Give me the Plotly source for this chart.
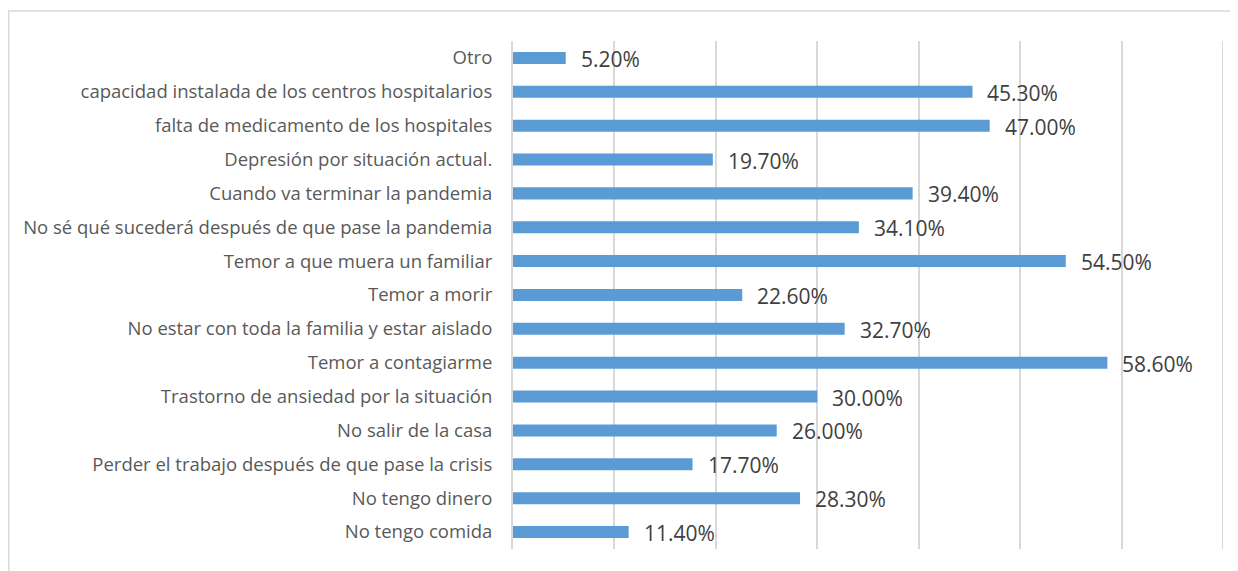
import plotly.graph_objects as go

categories = [
    "Otro",
    "capacidad instalada de los centros hospitalarios",
    "falta de medicamento de los hospitales",
    "Depresión por situación actual.",
    "Cuando va terminar la pandemia",
    "No sé qué sucederá después de que pase la pandemia",
    "Temor a que muera un familiar",
    "Temor a morir",
    "No estar con toda la familia y estar aislado",
    "Temor a contagiarme",
    "Trastorno de ansiedad por la situación",
    "No salir de la casa",
    "Perder el trabajo después de que pase la crisis",
    "No tengo dinero",
    "No tengo comida",
]
values = [5.2, 45.3, 47.0, 19.7, 39.4, 34.1, 54.5, 22.6, 32.7, 58.6, 30.0, 26.0, 17.7, 28.3, 11.4]
value_labels = [f"{v:.2f}%" for v in values]

# plot from bottom to top
cats_rev = categories[::-1]
vals_rev = values[::-1]
labels_rev = value_labels[::-1]

FONT = "Open Sans, Lato, sans-serif"
X_MAX = 70

fig = go.Figure()
fig.add_trace(go.Bar(
    x=vals_rev, y=cats_rev, orientation="h",
    marker=dict(color="#5B9BD5", line=dict(width=0)),
    hoverinfo="skip",
))

for c, v, t in zip(cats_rev, vals_rev, labels_rev):
    fig.add_annotation(x=v, y=c, text=t, showarrow=False, xanchor="left",
                       xshift=13, yshift=-1,
                       font=dict(family=FONT, size=21, color="#404040"))

# page has an 8px body margin, so the figure is 1230x563 starting at (8, 8)
W, H = 1230, 563
L, R, T, B = 505, 15, 33, 22
pw, ph = W - L - R, H - T - B

fig.update_layout(
    width=W, height=H,
    margin=dict(l=L, r=R, t=T, b=B),
    paper_bgcolor="white", plot_bgcolor="white",
    bargap=0.645,
    showlegend=False,
    xaxis=dict(range=[0, X_MAX], dtick=10, showgrid=True, gridcolor="#D9D9D9", gridwidth=2,
               showticklabels=False, zeroline=False, showline=False, ticks="", fixedrange=True),
    yaxis=dict(showgrid=False, showline=True, linecolor="#D9D9D9", linewidth=2,
               ticks="", ticklabelstandoff=15,
               tickfont=dict(family=FONT, size=18.5, color="#595959")),
    shapes=[
        dict(type="line", xref="x", yref="paper", x0=X_MAX, x1=X_MAX, y0=0, y1=1,
             line=dict(color="#D9D9D9", width=2), layer="below"),
        dict(type="line", xref="paper", yref="paper",
             x0=(0 - L) / pw, x1=(W + 5 - L) / pw, y0=(H - B - 3) / ph, y1=(H - B - 3) / ph,
             line=dict(color="#D9D9D9", width=1.5)),
        dict(type="line", xref="paper", yref="paper",
             x0=(0.75 - L) / pw, x1=(0.75 - L) / pw, y0=(H - B - 3) / ph, y1=-B / ph - 0.02,
             line=dict(color="#D9D9D9", width=1.5)),
    ],
)

fig.write_html("out.html")
